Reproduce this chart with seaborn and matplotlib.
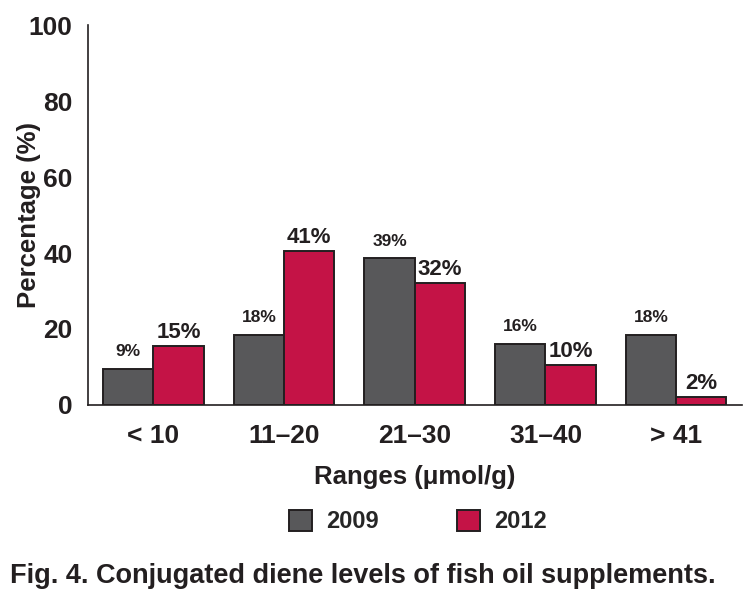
import matplotlib
matplotlib.use('Agg')
import matplotlib.pyplot as plt
from matplotlib.patches import Patch
from matplotlib.ticker import FixedLocator
import seaborn as sns
import pandas as pd

# data
ranges = ['< 10', '11\u201320', '21\u201330', '31\u201340', '> 41']
years = ['2009', '2012']
pct_2009 = [9.5, 18.4, 38.6, 16.0, 18.4]
pct_2012 = [15.5, 40.5, 32.1, 10.5, 2.1]
labels_2009 = ['9%', '18%', '39%', '16%', '18%']
labels_2012 = ['15%', '41%', '32%', '10%', '2%']
colors = ['#58585a', '#c41346']
edge = '#231f20'


def main():
    sns.set_style('white')
    plt.rcParams['font.family'] = ['Liberation Sans', 'DejaVu Sans']

    df = pd.DataFrame({
        'range': ranges * 2,
        'year': [years[0]] * 5 + [years[1]] * 5,
        'pct': pct_2009 + pct_2012,
    })

    fig = plt.figure(figsize=(7.49, 6.05), dpi=100)
    ax = fig.add_axes([0.1175, 0.3306, 0.8725, 0.628])
    sns.barplot(data=df, x='range', y='pct', hue='year', order=ranges,
                hue_order=years, palette=colors, width=0.77, gap=0,
                edgecolor=edge, linewidth=1.4, saturation=1, legend=False, ax=ax)

    ax.bar_label(ax.containers[0], labels=labels_2009, padding=7,
                 fontsize=12.5, fontweight='bold', color=edge)
    ax.bar_label(ax.containers[1], labels=labels_2012, padding=2,
                 fontsize=16, fontweight='bold', color=edge)

    ax.set_ylim(0, 100)
    ax.set_xlim(-0.5, 4.5)
    ax.set_yticks([0, 20, 40, 60, 80, 100])
    ax.xaxis.set_minor_locator(FixedLocator([-0.5, 0.5, 1.5, 2.5, 3.5, 4.5]))
    ax.tick_params(axis='x', which='major', length=0, pad=14)
    ax.tick_params(axis='x', which='minor', length=8, width=1.2, color=edge, direction='out')
    ax.tick_params(axis='y', length=8, width=1.2, color=edge, direction='out', pad=3)
    for lab in ax.get_xticklabels() + ax.get_yticklabels():
        lab.set_fontweight('bold')
        lab.set_fontsize(19)
        lab.set_color(edge)

    sns.despine(ax=ax)
    for sp in ['left', 'bottom']:
        ax.spines[sp].set_color(edge)
        ax.spines[sp].set_linewidth(1.2)

    ax.set_ylabel('Percentage (%)', fontsize=18.5, fontweight='bold', color=edge)
    ax.yaxis.set_label_coords(-0.072, 0.5)
    ax.set_xlabel('Ranges (\u03bcmol/g)', fontsize=18.5, fontweight='bold', color=edge, labelpad=12)

    handles = [Patch(facecolor=c, edgecolor=edge, linewidth=1.4) for c in colors]
    fig.legend(handles, years, loc='center', bbox_to_anchor=(0.558, 0.138), ncol=2,
               frameon=False, prop={'weight': 'bold', 'size': 17},
               handlelength=1.0, handleheight=1.0, columnspacing=3.3, handletextpad=0.6)

    fig.text(0.013, 0.048, 'Fig. 4. Conjugated diene levels of fish oil supplements.',
             fontsize=19.5, fontweight='bold', color=edge, ha='left', va='center')

    fig.savefig('out.png', dpi=100)


if __name__ == '__main__':
    main()
